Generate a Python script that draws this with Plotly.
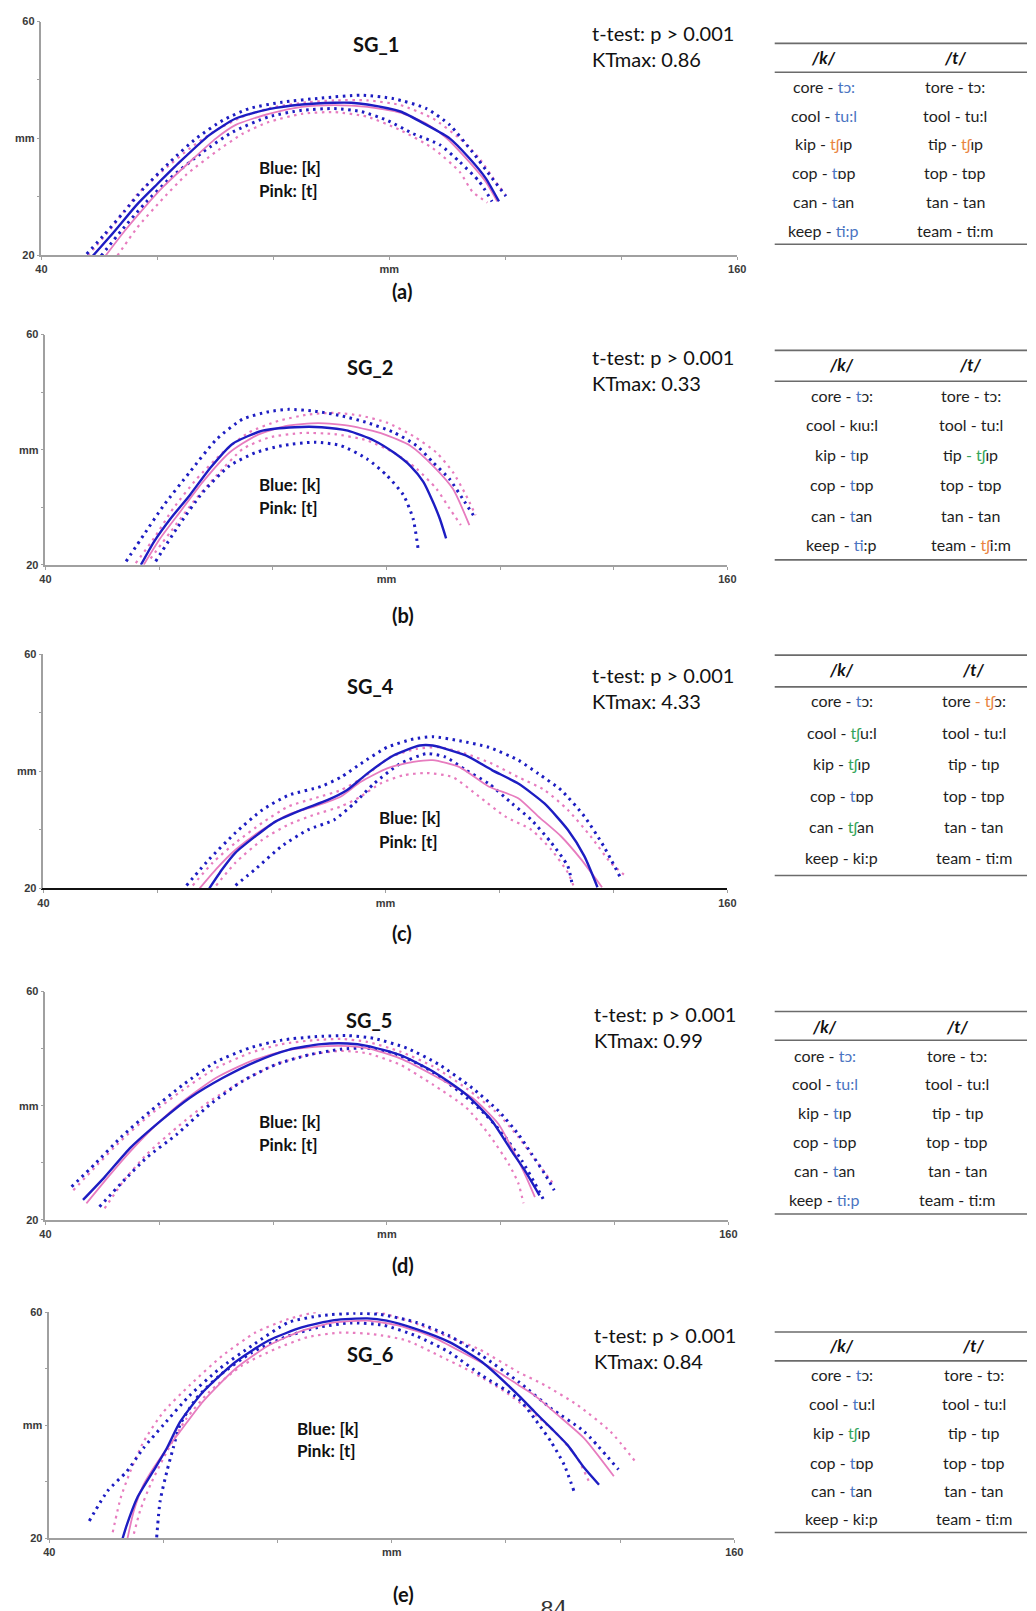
import plotly.graph_objects as go

W, H = 1036, 1611

# ---------------------------------------------------------------------------
# Tongue contours in mm: mean and +/- bounds, [k] and [t], per speaker
# ---------------------------------------------------------------------------
SG1_K_MEAN = [(48.7, 19.7), (52.6, 24.1), (56.5, 28.7), (59.9, 32.1), (63.9, 36.0), (69.0, 40.6),
              (73.5, 43.4), (79.2, 45.0), (84.9, 45.8), (90.5, 46.1), (93.4, 46.1), (96.2, 45.8),
              (101.9, 44.6), (106.4, 42.3), (110.4, 40.0), (113.8, 36.6), (116.6, 33.2), (118.9, 29.2)]
SG1_K_UP = [(47.8, 20.2), (50.9, 23.6), (54.3, 27.5), (57.7, 31.5), (62.2, 36.0), (66.7, 40.0),
            (71.3, 43.1), (75.8, 45.1), (81.5, 46.2), (88.3, 46.9), (95.1, 47.4), (100.7, 46.8),
            (106.4, 45.1), (110.4, 42.3), (114.3, 37.7), (117.7, 33.2), (120.1, 30.1)]
SG1_K_LO = [(50.3, 19.9), (53.7, 24.1), (57.7, 28.7), (62.2, 33.2), (67.9, 37.7), (73.0, 41.1),
            (79.2, 43.7), (84.9, 44.8), (90.5, 45.1), (95.1, 44.6), (99.6, 43.1), (104.1, 40.8),
            (108.7, 38.9), (112.1, 36.0), (115.5, 32.6), (117.7, 29.2)]
SG1_T_MEAN = [(50.9, 19.7), (54.3, 24.1), (57.7, 28.1), (61.1, 31.8), (65.6, 36.0), (70.1, 40.0),
              (73.5, 42.3), (79.2, 44.2), (84.9, 45.4), (90.5, 45.7), (96.2, 45.4), (101.9, 44.4),
              (106.4, 42.5), (109.8, 40.1), (113.2, 36.6), (116.6, 32.6), (118.6, 29.2)]
SG1_T_UP = [(48.0, 19.9), (52.6, 25.3), (56.5, 30.4), (61.1, 34.6), (65.6, 38.3), (70.1, 41.4),
            (74.7, 43.7), (80.3, 45.4), (86.0, 46.2), (90.5, 46.5), (96.2, 46.5), (101.9, 45.7),
            (107.5, 43.4), (112.1, 40.0), (115.5, 36.6), (118.3, 32.6), (120.0, 30.4)]
SG1_T_LO = [(53.1, 19.9), (56.5, 24.7), (60.5, 29.2), (65.0, 33.8), (70.1, 37.7), (74.7, 40.8),
            (79.2, 42.8), (84.9, 44.2), (90.5, 44.5), (96.2, 43.7), (101.9, 41.4), (107.5, 38.3),
            (112.1, 34.3), (114.3, 30.9), (116.9, 29.0)]

SG2_K_MEAN = [(56.8, 20.0), (59.1, 24.0), (62.0, 28.0), (65.4, 32.1), (68.9, 36.7), (72.9, 41.0),
              (78.2, 43.3), (83.9, 43.9), (88.6, 43.9), (93.2, 43.3), (97.8, 41.6), (101.3, 39.5),
              (104.2, 37.2), (106.5, 34.4), (108.2, 30.9), (109.4, 28.0), (110.5, 24.6)]
SG2_K_UP = [(54.2, 20.6), (57.3, 25.2), (60.8, 30.3), (65.4, 36.1), (70.1, 41.8), (74.7, 45.3),
            (79.3, 46.6), (82.8, 47.0), (87.4, 46.7), (92.0, 45.9), (96.6, 44.7), (101.3, 43.0),
            (105.3, 40.7), (108.2, 37.8), (111.1, 34.9), (113.4, 31.5), (115.7, 28.0)]
SG2_K_LO = [(59.4, 20.6), (63.1, 26.3), (67.7, 32.6), (72.4, 37.2), (77.0, 39.5), (81.6, 40.7),
            (87.4, 41.3), (92.0, 40.7), (96.6, 38.4), (100.1, 35.5), (103.0, 32.1), (104.7, 28.0),
            (105.6, 22.6)]
SG2_T_MEAN = [(57.3, 20.0), (60.2, 24.6), (63.7, 29.2), (67.7, 34.4), (72.4, 39.5), (77.0, 42.4),
              (82.2, 44.1), (88.0, 44.6), (93.8, 44.1), (99.5, 42.7), (104.2, 40.7), (108.2, 37.2),
              (111.7, 33.2), (114.6, 26.9)]
SG2_T_UP = [(55.9, 20.3), (59.1, 24.6), (62.5, 29.8), (66.6, 34.9), (71.2, 39.5), (75.8, 43.0),
            (81.0, 45.0), (86.2, 46.1), (90.9, 46.4), (95.5, 45.9), (100.1, 44.7), (104.7, 42.4),
            (108.8, 39.5), (111.7, 36.1), (114.0, 32.1), (115.7, 28.6)]
SG2_T_LO = [(58.5, 21.1), (62.0, 25.7), (66.0, 30.9), (70.1, 35.5), (74.7, 40.1), (79.3, 42.1),
            (85.1, 42.9), (90.9, 42.7), (96.6, 41.6), (101.3, 39.5), (105.3, 36.7), (108.8, 33.2),
            (111.1, 29.8), (113.1, 26.9)]

SG4_K_MEAN = [(69.1, 20.0), (71.4, 23.3), (73.7, 26.1), (77.2, 28.9), (80.7, 31.4), (85.3, 33.4),
              (89.9, 35.1), (93.3, 36.8), (96.8, 39.6), (101.4, 42.7), (106.0, 44.4), (108.3, 44.4),
              (114.1, 42.7), (118.7, 40.2), (123.3, 37.9), (127.9, 34.5), (132.0, 30.0), (134.9, 25.5),
              (137.2, 20.2)]
SG4_K_UP = [(65.1, 20.5), (69.1, 25.0), (73.7, 29.5), (78.4, 33.4), (83.0, 35.9), (88.7, 37.4),
            (92.2, 39.0), (95.7, 41.3), (100.3, 44.1), (104.9, 45.5), (108.3, 45.9), (113.0, 45.2),
            (118.1, 44.1), (123.3, 41.9), (126.8, 39.6), (130.8, 36.8), (134.9, 32.3), (138.3, 27.2),
            (141.2, 21.9)]
SG4_K_LO = [(73.7, 20.5), (77.2, 23.3), (81.8, 27.2), (86.4, 30.0), (91.0, 31.7), (94.5, 34.5),
            (98.0, 37.9), (102.6, 41.3), (107.2, 43.0), (110.6, 42.4), (114.1, 40.2), (118.1, 37.9),
            (122.2, 34.5), (125.6, 31.7), (129.1, 27.8), (132.0, 23.8), (132.8, 20.5)]
SG4_T_MEAN = [(67.4, 20.0), (70.3, 23.3), (73.7, 26.6), (78.4, 30.0), (83.0, 32.6), (87.6, 34.0),
              (92.2, 35.7), (95.7, 38.2), (100.3, 40.5), (104.9, 41.6), (108.3, 41.9), (113.0, 40.7),
              (118.1, 37.4), (123.3, 35.4), (126.8, 32.3), (130.8, 28.9), (134.3, 25.0), (138.0, 20.2)]
SG4_T_UP = [(66.2, 20.5), (69.7, 24.4), (73.7, 27.8), (78.4, 31.2), (83.0, 34.0), (87.6, 35.4),
            (92.2, 36.8), (96.2, 39.0), (100.8, 42.4), (105.4, 43.8), (109.5, 44.1), (114.1, 43.0),
            (118.7, 41.3), (123.3, 39.0), (127.9, 36.8), (132.0, 33.4), (136.0, 28.9), (139.5, 24.4),
            (142.4, 21.9)]
SG4_T_LO = [(70.3, 20.5), (73.7, 24.4), (78.4, 28.3), (83.0, 30.9), (87.6, 32.6), (92.2, 34.0),
            (95.7, 35.7), (99.1, 37.9), (103.1, 39.3), (107.2, 39.7), (111.8, 39.0), (116.4, 35.7),
            (121.0, 32.3), (125.6, 30.0), (129.1, 26.6), (132.0, 22.7), (133.1, 20.2)]

SG5_K_MEAN = [(46.6, 23.5), (50.4, 27.5), (55.0, 32.7), (60.2, 37.3), (65.4, 41.4), (71.2, 44.9),
              (76.9, 47.7), (82.7, 49.8), (88.5, 50.8), (93.1, 50.9), (96.5, 50.5), (102.3, 48.9),
              (108.1, 46.0), (113.9, 42.0), (118.5, 37.3), (121.9, 32.1), (124.2, 28.7), (126.8, 24.3)]
SG5_K_UP = [(44.6, 25.8), (48.7, 29.8), (53.3, 34.5), (58.5, 39.1), (64.2, 43.7), (70.0, 47.7),
            (75.8, 50.1), (81.5, 51.5), (87.3, 52.1), (93.1, 52.3), (97.7, 51.8), (103.5, 50.1),
            (109.2, 47.2), (115.0, 43.1), (119.6, 39.1), (123.1, 35.0), (125.4, 31.6), (127.7, 28.1),
            (129.4, 25.2)]
SG5_K_LO = [(49.5, 22.3), (53.3, 26.4), (57.9, 31.0), (63.1, 35.0), (68.9, 40.2), (74.6, 44.3),
            (80.4, 47.2), (86.2, 48.9), (91.9, 49.9), (96.5, 50.1), (101.2, 49.2), (106.9, 46.6),
            (112.7, 42.5), (117.3, 38.5), (120.8, 34.5), (123.7, 30.4), (126.0, 26.4), (127.7, 23.2)]
SG5_T_MEAN = [(47.2, 22.9), (51.0, 27.5), (55.0, 32.1), (59.6, 36.8), (64.2, 40.8), (70.0, 44.9),
              (75.8, 47.7), (81.5, 49.5), (87.3, 50.3), (91.9, 50.5), (96.5, 50.1), (102.3, 48.3),
              (108.1, 45.4), (115.0, 41.4), (119.6, 36.8), (121.9, 32.7), (124.2, 28.1), (126.0, 24.0)]
SG5_T_UP = [(44.9, 25.2), (48.7, 29.2), (53.3, 33.9), (58.5, 38.5), (64.2, 42.8), (70.0, 46.6),
            (75.8, 49.2), (81.5, 50.8), (87.3, 51.5), (91.9, 51.7), (96.5, 51.2), (102.3, 49.5),
            (108.1, 46.9), (113.9, 43.1), (119.6, 38.5), (123.1, 34.5), (126.6, 29.8), (129.4, 26.1)]
SG5_T_LO = [(50.4, 22.0), (53.8, 26.9), (57.9, 31.6), (63.1, 36.2), (68.9, 40.8), (74.6, 44.3),
            (80.4, 47.2), (86.2, 48.9), (91.9, 49.6), (96.5, 49.2), (102.3, 47.2), (108.1, 43.7),
            (113.9, 39.7), (117.9, 35.0), (121.4, 29.8), (123.1, 26.4), (124.0, 22.9)]

SG6_K_MEAN = [(52.8, 19.9), (53.6, 22.5), (55.4, 27.2), (58.2, 31.9), (60.6, 36.0), (62.9, 40.6),
              (66.9, 45.9), (72.6, 51.2), (78.4, 55.0), (84.2, 57.3), (89.9, 58.6), (95.7, 58.9),
              (99.1, 58.5), (104.3, 57.0), (110.1, 54.7), (115.8, 51.2), (122.2, 45.3), (125.0, 42.4),
              (127.9, 39.5), (130.8, 36.5), (133.7, 32.5), (136.3, 29.5)]
SG6_K_UP = [(47.0, 23.1), (50.2, 28.4), (53.6, 31.9), (56.5, 36.0), (60.0, 40.1), (64.6, 45.3),
            (69.8, 50.0), (75.5, 54.1), (81.9, 58.2), (87.6, 59.4), (93.4, 59.8), (98.0, 59.6),
            (104.3, 58.2), (110.1, 55.8), (115.8, 52.3), (122.2, 47.7), (127.9, 43.0), (133.7, 38.9),
            (139.7, 32.2)]
SG6_K_LO = [(58.8, 20.2), (59.4, 26.6), (60.6, 31.9), (61.7, 36.0), (62.9, 40.1), (65.7, 44.7),
            (69.8, 48.8), (75.5, 52.9), (81.3, 55.6), (87.0, 57.3), (92.8, 58.1), (98.5, 57.7),
            (104.3, 55.8), (110.1, 52.9), (115.8, 48.8), (122.2, 44.7), (125.0, 41.2), (127.9, 37.1),
            (130.2, 33.0), (131.9, 28.4)]
SG6_T_MEAN = [(53.6, 19.6), (54.8, 24.9), (56.5, 29.5), (59.4, 34.2), (62.9, 38.9), (66.9, 44.2),
              (72.6, 50.0), (78.4, 54.1), (84.2, 56.7), (89.9, 58.2), (95.7, 58.5), (101.4, 57.6),
              (107.2, 55.6), (112.9, 52.6), (118.7, 49.4), (122.2, 47.1), (125.0, 45.3), (129.1, 41.8),
              (133.7, 37.7), (138.9, 31.0)]
SG6_T_UP = [(51.1, 21.1), (52.5, 27.2), (54.2, 31.9), (56.5, 37.1), (60.0, 42.4), (64.6, 47.1),
            (70.3, 52.3), (76.1, 56.4), (81.9, 58.8), (87.6, 60.2), (92.2, 60.6), (98.0, 59.9),
            (103.7, 58.2), (109.5, 55.8), (115.2, 53.5), (122.2, 49.4), (126.8, 47.1), (132.5, 43.6),
            (138.3, 38.9), (142.9, 33.3)]
SG6_T_LO = [(54.5, 19.6), (55.9, 24.9), (57.7, 29.5), (60.6, 35.4), (64.0, 41.2), (68.0, 45.9),
            (73.8, 50.6), (79.6, 53.5), (85.3, 55.6), (91.1, 56.4), (96.8, 56.1), (102.6, 55.0),
            (108.3, 52.3), (114.1, 49.4), (119.9, 45.9), (124.5, 42.4), (129.1, 38.3), (132.5, 34.2),
            (134.8, 29.5)]

SPEAKERS = ["SG_1", "SG_2", "SG_4", "SG_5", "SG_6"]
CAPTIONS = ["(a)", "(b)", "(c)", "(d)", "(e)"]
KTMAX = ["0.86", "0.33", "4.33", "0.99", "0.84"]
P_TEXT = "t-test: p > 0.001"

X_TICKS = [40, 60, 80, 100, 120, 140, 160]
X_TICKTEXT = ["40", "", "", "mm", "", "", "160"]
Y_TICKS = [20, 30, 40, 50, 60]
Y_TICKTEXT = ["20", "", "mm", "", "60"]

# ---------------------------------------------------------------------------
# Word lists (coloured transcriptions)
# ---------------------------------------------------------------------------
C_BLUE, C_ORANGE, C_GREEN = "#4a74c2", "#e9843f", "#34a55a"


def b(s):
    return f"<span style='color:{C_BLUE}'>{s}</span>"


def o(s):
    return f"<span style='color:{C_ORANGE}'>{s}</span>"


def g(s):
    return f"<span style='color:{C_GREEN}'>{s}</span>"


SG1_K_WORDS = ["core - " + b("tɔ:"), "cool - " + b("tu:l"), "kip - " + o("tʃ") + "ɪp",
               "cop - " + b("t") + "ɒp", "can - " + b("t") + "an", "keep - " + b("ti:p")]
SG1_T_WORDS = ["tore - tɔ:", "tool - tu:l", "tip - " + o("tʃ") + "ɪp", "top - tɒp", "tan - tan",
               "team - ti:m"]
SG2_K_WORDS = ["core - " + b("t") + "ɔ:", "cool - kɪu:l", "kip - " + b("t") + "ɪp",
               "cop - " + b("t") + "ɒp", "can - " + b("t") + "an", "keep - " + b("t") + "i:p"]
SG2_T_WORDS = ["tore - tɔ:", "tool - tu:l", "tip " + g("- tʃ") + "ɪp", "top - tɒp", "tan - tan",
               "team - " + o("tʃ") + "i:m"]
SG4_K_WORDS = ["core - " + b("t") + "ɔ:", "cool - " + g("tʃ") + "u:l", "kip - " + g("tʃ") + "ɪp",
               "cop - " + b("t") + "ɒp", "can - " + g("tʃ") + "an", "keep - ki:p"]
SG4_T_WORDS = ["tore " + o("- tʃ") + "ɔ:", "tool - tu:l", "tip - tɪp", "top - tɒp", "tan - tan",
               "team - ti:m"]
SG5_K_WORDS = ["core - " + b("tɔ:"), "cool - " + b("tu:l"), "kip - " + b("t") + "ɪp",
               "cop - " + b("t") + "ɒp", "can - " + b("t") + "an", "keep - " + b("ti:p")]
SG5_T_WORDS = ["tore - tɔ:", "tool - tu:l", "tip - tɪp", "top - tɒp", "tan - tan", "team - ti:m"]
SG6_K_WORDS = ["core - " + b("t") + "ɔ:", "cool - " + b("t") + "u:l", "kip - " + g("tʃ") + "ɪp",
               "cop - " + b("t") + "ɒp", "can - " + b("t") + "an", "keep - ki:p"]
SG6_T_WORDS = ["tore - tɔ:", "tool - tu:l", "tip - tɪp", "top - tɒp", "tan - tan", "team - ti:m"]

# ---------------------------------------------------------------------------
# Page layout (pixel positions of each block)
# ---------------------------------------------------------------------------
PANELS = [
    dict(k=(SG1_K_MEAN, SG1_K_UP, SG1_K_LO), t=(SG1_T_MEAN, SG1_T_UP, SG1_T_LO),
         words=(SG1_K_WORDS, SG1_T_WORDS),
         box=(36, 742, 251, 15.7), title=(375, 38), legend=(255, 163, 186), stats=(593, 27, 53),
         caption=(402, 287), xline="#a0a0a0", xw=1.5,
         table=dict(top=37.7, hdr=66.7, bot=240, hy=52, cols=(830, 963),
                    rows=(81, 110, 139, 168, 197, 226))),
    dict(k=(SG2_K_MEAN, SG2_K_UP, SG2_K_LO), t=(SG2_T_MEAN, SG2_T_UP, SG2_T_LO),
         words=(SG2_K_WORDS, SG2_T_WORDS),
         box=(40, 732, 563, 331), title=(369, 364), legend=(255, 482, 505), stats=(593, 354, 380),
         caption=(403, 614), xline="#a0a0a0", xw=1.5,
         table=dict(top=347, hdr=378, bot=558, hy=361, cols=(848, 979),
                    rows=(392, 422, 452, 482, 513, 543))),
    dict(k=(SG4_K_MEAN, SG4_K_UP, SG4_K_LO), t=(SG4_T_MEAN, SG4_T_UP, SG4_T_LO),
         words=(SG4_K_WORDS, SG4_T_WORDS),
         box=(38, 732, 889, 653), title=(370, 685), legend=(376, 818, 842), stats=(593, 674, 700),
         caption=(402, 934), xline="#111111", xw=2,
         table=dict(top=654, hdr=686, bot=876, hy=668, cols=(848, 982),
                    rows=(700, 732, 763, 795, 827, 858))),
    dict(k=(SG5_K_MEAN, SG5_K_UP, SG5_K_LO), t=(SG5_T_MEAN, SG5_T_UP, SG5_T_LO),
         words=(SG5_K_WORDS, SG5_T_WORDS),
         box=(40, 733, 1223, 993), title=(368, 1022), legend=(255, 1124, 1147), stats=(595, 1016, 1042),
         caption=(403, 1268), xline="#a0a0a0", xw=1.5,
         table=dict(top=1013, hdr=1042, bot=1217, hy=1028, cols=(831, 965),
                    rows=(1057, 1086, 1115, 1144, 1173, 1202))),
    dict(k=(SG6_K_MEAN, SG6_K_UP, SG6_K_LO), t=(SG6_T_MEAN, SG6_T_UP, SG6_T_LO),
         words=(SG6_K_WORDS, SG6_T_WORDS),
         box=(44, 739, 1544, 1316), title=(369, 1358), legend=(293, 1433, 1455), stats=(595, 1339, 1365),
         caption=(403, 1600), xline="#a0a0a0", xw=1.5,
         table=dict(top=1336, hdr=1365, bot=1538, hy=1350, cols=(848, 982),
                    rows=(1379, 1408, 1437, 1467, 1496, 1524))),
]

LINE_BLUE = "#1d1dc2"
LINE_PINK = "#e77cbf"
TEXT_FONT = "Lato, 'Noto Sans', 'DejaVu Sans', sans-serif"
TICK_FONT = dict(family="'Liberation Sans', Arial, sans-serif", size=11, color="#3a3a3a", weight="bold")


def px(x, y):
    return x / W, 1 - y / H


fig = go.Figure()
annotations = []
shapes = []

for i, p in enumerate(PANELS, start=1):
    xa = "x" if i == 1 else f"x{i}"
    ya = "y" if i == 1 else f"y{i}"
    x0, x1, yb, yt = p["box"]

    # bounds first, then means on top
    for series, color, w in ((p["t"], LINE_PINK, 2.2), (p["k"], LINE_BLUE, 3.0)):
        for bound in series[1:]:
            fig.add_trace(go.Scatter(
                x=[q[0] for q in bound], y=[q[1] for q in bound], mode="lines",
                line=dict(color=color, width=w, dash="2.5px,4.5px", shape="spline", smoothing=0.6),
                xaxis=xa, yaxis=ya, showlegend=False, hoverinfo="skip"))
    for series, color, w in ((p["t"], LINE_PINK, 1.8), (p["k"], LINE_BLUE, 2.4)):
        mean = series[0]
        fig.add_trace(go.Scatter(
            x=[q[0] for q in mean], y=[q[1] for q in mean], mode="lines",
            line=dict(color=color, width=w, shape="spline", smoothing=0.6),
            xaxis=xa, yaxis=ya, showlegend=False, hoverinfo="skip"))

    xkey = "xaxis" if i == 1 else f"xaxis{i}"
    ykey = "yaxis" if i == 1 else f"yaxis{i}"
    fig.update_layout({
        xkey: dict(domain=[x0 / W, x1 / W], range=[40, 160], anchor=ya,
                   tickvals=X_TICKS, ticktext=X_TICKTEXT, ticks="outside", ticklen=3,
                   tickcolor="#a0a0a0", showgrid=False, zeroline=False, showline=True,
                   linecolor=p["xline"], linewidth=p["xw"], tickfont=TICK_FONT, fixedrange=True),
        ykey: dict(domain=[1 - yb / H, 1 - yt / H], range=[20, 60], anchor=xa,
                   tickvals=Y_TICKS, ticktext=Y_TICKTEXT, ticks="outside", ticklen=3,
                   tickcolor="#a0a0a0", showgrid=False, zeroline=False, showline=True,
                   linecolor="#a0a0a0", linewidth=1.5, tickfont=TICK_FONT, fixedrange=True),
    })

    def note(x, y, text, size, bold=False, anchor="center", color="#111111"):
        ax, ay = px(x, y)
        annotations.append(dict(
            xref="paper", yref="paper", x=ax, y=ay, text=text, showarrow=False,
            xanchor=anchor, yanchor="middle",
            font=dict(family=TEXT_FONT, size=size, color=color, weight="bold" if bold else "normal")))

    note(p["title"][0], p["title"][1], SPEAKERS[i - 1], 20, bold=True)
    lx, ly1, ly2 = p["legend"]
    note(lx, ly1, "Blue: [k]", 17, bold=True, anchor="left")
    note(lx, ly2, "Pink: [t]", 17, bold=True, anchor="left")
    sx, sy1, sy2 = p["stats"]
    note(sx, sy1, P_TEXT, 20, anchor="left")
    note(sx, sy2, "KTmax: " + KTMAX[i - 1], 20, anchor="left")
    note(p["caption"][0], p["caption"][1], CAPTIONS[i - 1], 20, bold=True)

    # word table
    tb = p["table"]
    for yy in (tb["top"], tb["hdr"], tb["bot"]):
        ax0, ay = px(780, yy)
        ax1, _ = px(W, yy)
        shapes.append(dict(type="line", xref="paper", yref="paper", x0=ax0, x1=ax1, y0=ay, y1=ay,
                           line=dict(color="#6b6b6b", width=1.6)))
    note(tb["cols"][0], tb["hy"], "<i>/k/</i>", 17, bold=True)
    note(tb["cols"][1], tb["hy"], "<i>/t/</i>", 17, bold=True)
    for col, words in zip(tb["cols"], p["words"]):
        for yy, w in zip(tb["rows"], words):
            note(col, yy, w, 16, color="#1e1e1e")

# page number at the foot of the page
ax, ay = px(556, 1616)
annotations.append(dict(xref="paper", yref="paper", x=ax, y=ay, text="84", showarrow=False,
                        xanchor="center", yanchor="middle",
                        font=dict(family="'DejaVu Serif', serif", size=22, color="#333333")))

fig.update_layout(
    width=W, height=H, margin=dict(l=0, r=0, t=0, b=0),
    paper_bgcolor="white", plot_bgcolor="white",
    annotations=annotations, shapes=shapes, showlegend=False,
)

fig.write_html("out.html", config={"displayModeBar": False})
